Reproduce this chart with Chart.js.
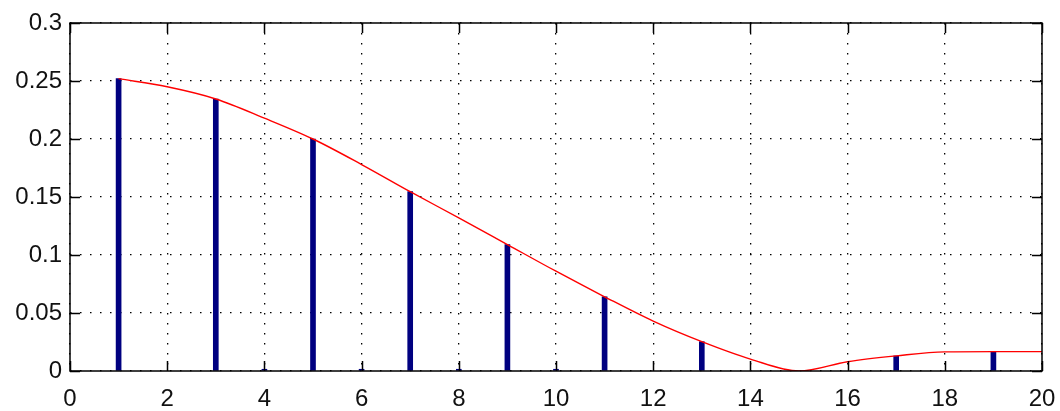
<!DOCTYPE html>
<html>
<head>
<meta charset="utf-8">
<script src="https://cdn.jsdelivr.net/npm/chart.js@4/dist/chart.umd.min.js"></script>
<style>
  html, body { margin: 0; padding: 0; background: #fff; }
  #wrap { width: 1060px; height: 411px; }
</style>
</head>
<body>
<div id="wrap"><canvas id="plot" width="1060" height="411"></canvas></div>
<script>
// stem samples (odd and small even harmonics)
const stemX = [1, 3, 4, 5, 6, 7, 8, 9, 10, 11, 13, 17, 19];
const stemY = [0.252, 0.2345, 0.0015, 0.200, 0.0015, 0.1546, 0.0015, 0.109, 0.0015, 0.064, 0.0253, 0.013, 0.0167];

// continuous envelope
const curveX = [1, 2, 3, 4, 5, 6, 7, 8, 9, 10, 11, 12, 13, 14, 15, 16, 17, 18, 19, 20];
const curveY = [0.252, 0.245, 0.2345, 0.218, 0.200, 0.178, 0.1546, 0.132, 0.109, 0.086, 0.064, 0.043, 0.0253, 0.0103, 0.000, 0.008, 0.013, 0.0165, 0.0167, 0.0167];

const xTicks = [0, 2, 4, 6, 8, 10, 12, 14, 16, 18, 20];
const yTicks = [0, 0.05, 0.1, 0.15, 0.2, 0.25, 0.3];

const tickFont = { family: 'Liberation Sans, Arial, sans-serif', size: 24 };

// axes box with inward tick marks on all four sides
const boxTicks = {
  id: 'boxTicks',
  afterDatasetsDraw(chart) {
    const { ctx, chartArea: a, scales } = chart;
    const len = 10;
    ctx.save();
    ctx.strokeStyle = '#000';
    ctx.lineWidth = 1.5;
    ctx.beginPath();
    xTicks.forEach(v => {
      const px = Math.round(scales.x.getPixelForValue(v)) + 0.5;
      ctx.moveTo(px, a.bottom); ctx.lineTo(px, a.bottom - len);
      ctx.moveTo(px, a.top); ctx.lineTo(px, a.top + len);
    });
    yTicks.forEach(v => {
      const py = Math.round(scales.y.getPixelForValue(v)) + 0.5;
      ctx.moveTo(a.left, py); ctx.lineTo(a.left + len, py);
      ctx.moveTo(a.right, py); ctx.lineTo(a.right - len, py);
    });
    ctx.stroke();
    ctx.strokeRect(a.left, a.top, a.right - a.left, a.bottom - a.top);
    ctx.restore();
  }
};

new Chart(document.getElementById('plot'), {
  data: {
    datasets: [
      {
        type: 'bar',
        data: stemX.map((x, i) => ({ x: x, y: stemY[i] })),
        backgroundColor: '#000080',
        barThickness: 5,
        order: 2
      },
      {
        type: 'line',
        data: curveX.map((x, i) => ({ x: x, y: curveY[i] })),
        borderColor: '#ff0000',
        borderWidth: 1.4,
        pointRadius: 0,
        cubicInterpolationMode: 'monotone',
        order: 1
      }
    ]
  },
  options: {
    responsive: false,
    animation: false,
    layout: { padding: { top: 23, right: 0, left: 0, bottom: 0 } },
    plugins: { legend: { display: false }, tooltip: { enabled: false } },
    scales: {
      x: {
        type: 'linear',
        min: 0, max: 20,
        offset: false,
        afterBuildTicks(scale) { scale.ticks = xTicks.map(v => ({ value: v })); },
        afterFit(scale) { scale.height = 40; scale.paddingRight = 18; scale.paddingLeft = 0; },
        grid: { color: '#000', lineWidth: 1.3, drawTicks: false, offset: false },
        border: { display: false, dash: [1.5, 8.5] },
        ticks: { font: tickFont, color: '#111', padding: 14, maxRotation: 0 }
      },
      y: {
        min: 0, max: 0.3,
        afterBuildTicks(scale) { scale.ticks = yTicks.map(v => ({ value: v })); },
        afterFit(scale) { scale.width = 70; },
        grid: { color: '#000', lineWidth: 1.3, drawTicks: false },
        border: { display: false, dash: [1.5, 8.5] },
        ticks: { font: tickFont, color: '#111', padding: 8, callback: v => String(+v.toFixed(2)) }
      }
    }
  },
  plugins: [boxTicks]
});
</script>
</body>
</html>
